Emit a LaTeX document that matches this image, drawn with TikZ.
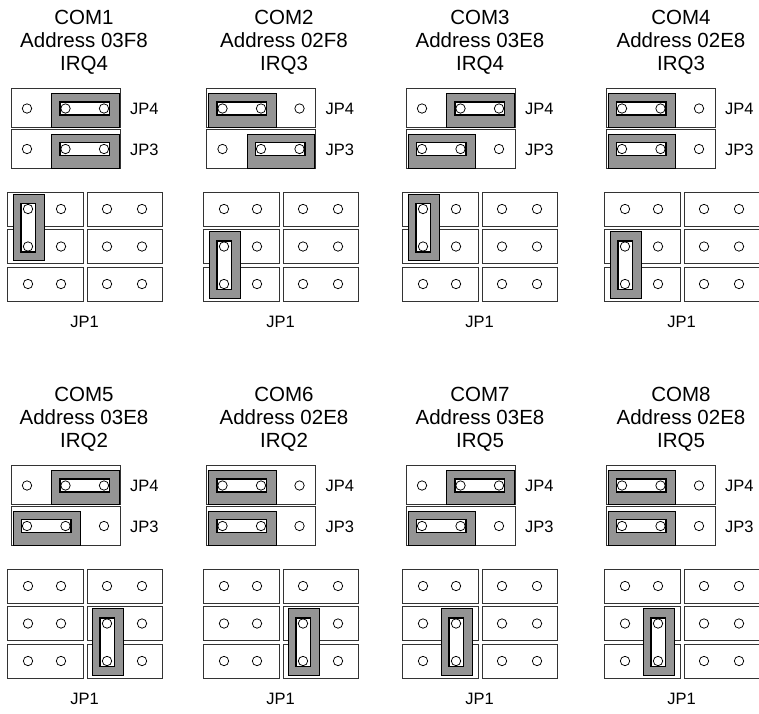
\documentclass[tikz,border=0pt]{standalone}
\usepackage{fontspec}
\setmainfont{Liberation Sans}
\tikzset{
  boxln/.style={draw=black!80, line width=0.9pt, fill=white},
  pin/.style={draw=black, line width=0.75pt, fill=white},
  jgray/.style={fill=black!42, draw=black, line width=1pt},
  jinln/.style={draw=black, line width=1.6pt},
  ttl/.style={font=\fontsize{20.5}{24}\selectfont, inner sep=0pt, anchor=base},
  lbl/.style={font=\fontsize{16.5}{19}\selectfont, inner sep=0pt},
}
% #1 X, #2 Y of pin row, #3 rel x of left jumpered pin, #4 label, #5 name
\newcommand\hrow[5]{%
  \draw[boxln] (#1+11,#2-20) rectangle (#1+120,#2+19);
  \draw[jgray] (#1+#3-14,#2-15) rectangle (#1+#3+38.5+15,#2+19);
  \fill[white] (#1+#3-5.5,#2-6.5) rectangle (#1+#3+38.5+5.5,#2+6.5);
  \foreach \p in {27,65.5,104} \draw[pin] (#1+\p,#2) circle (4.7);
  \draw[jinln] (#1+#3-5.5,#2-6.5) rectangle (#1+#3+38.5+5.5,#2+6.5);
  \node[lbl,anchor=west] (#5) at (#1+130,#2+0.5) {#4};
}
% #1 X, #2 Y (panel origin), #3 jumper column rel x, #4 y of top jumpered pin row (rel), #5 name
\newcommand\jpone[5]{%
  \foreach \ry in {192,229.5,267} {
    \draw[boxln] (#1+7,#2+\ry) rectangle (#1+83,#2+\ry+34);
    \draw[boxln] (#1+87,#2+\ry) rectangle (#1+162,#2+\ry+34);
  }
  \draw[jgray] (#1+#3-15,#2+#4-15) rectangle (#1+#3+16,#2+#4+37.5+14);
  \fill[white] (#1+#3-7,#2+#4-5.5) rectangle (#1+#3+7.5,#2+#4+37.5+5.5);
  \foreach \py in {209,246.5,284}
    \foreach \px in {28,61,107,142}
      \draw[pin] (#1+\px,#2+\py) circle (4.7);
  \draw[jinln] (#1+#3-7,#2+#4-5.5) rectangle (#1+#3+7.5,#2+#4+37.5+5.5);
  \node[lbl,anchor=base] (#5) at (#1+84.5,#2+327) {JP1};
}
% #1 centre x, #2 Y, #3..#5 lines, #6 name prefix
\newcommand\ptitle[6]{%
  \node[ttl] (#6a) at (#1,#2+24) {#3};
  \node[ttl] (#6b) at (#1,#2+47) {#4};
  \node[ttl] (#6c) at (#1,#2+70) {#5};
}
\begin{document}
\begin{tikzpicture}[x=1pt,y=-1pt]
\useasboundingbox (0,0) rectangle (759,713);
% ---- row 1
\ptitle{84}{0}{COM1}{Address 03F8}{IRQ4}{tA}
\hrow{0}{108.5}{65.5}{JP4}{jpfourA}
\hrow{0}{149}{65.5}{JP3}{jpthreeA}
\jpone{0}{0}{28}{209}{jponeA}

\ptitle{284}{0}{COM2}{Address 02F8}{IRQ3}{tB}
\hrow{195.5}{108.5}{27}{JP4}{jpfourB}
\hrow{195.5}{149}{65.5}{JP3}{jpthreeB}
\jpone{196}{0}{28}{246.5}{jponeB}

\ptitle{480}{0}{COM3}{Address 03E8}{IRQ4}{tC}
\hrow{395}{108.5}{65.5}{JP4}{jpfourC}
\hrow{395}{149}{27}{JP3}{jpthreeC}
\jpone{395}{0}{28}{209}{jponeC}

\ptitle{681}{0}{COM4}{Address 02E8}{IRQ3}{tD}
\hrow{595}{108.5}{27}{JP4}{jpfourD}
\hrow{595}{149}{27}{JP3}{jpthreeD}
\jpone{597}{0}{28}{246.5}{jponeD}
% ---- row 2
\ptitle{84}{377}{COM5}{Address 03E8}{IRQ2}{tE}
\hrow{0}{485.5}{65.5}{JP4}{jpfourE}
\hrow{0}{526}{27}{JP3}{jpthreeE}
\jpone{0}{377}{107}{246.5}{jponeE}

\ptitle{284}{377}{COM6}{Address 02E8}{IRQ2}{tF}
\hrow{195.5}{485.5}{27}{JP4}{jpfourF}
\hrow{195.5}{526}{27}{JP3}{jpthreeF}
\jpone{196}{377}{107}{246.5}{jponeF}

\ptitle{480}{377}{COM7}{Address 03E8}{IRQ5}{tG}
\hrow{395}{485.5}{65.5}{JP4}{jpfourG}
\hrow{395}{526}{27}{JP3}{jpthreeG}
\jpone{395}{377}{61}{246.5}{jponeG}

\ptitle{681}{377}{COM8}{Address 02E8}{IRQ5}{tH}
\hrow{595}{485.5}{27}{JP4}{jpfourH}
\hrow{595}{526}{27}{JP3}{jpthreeH}
\jpone{597}{377}{61}{246.5}{jponeH}
\end{tikzpicture}
\end{document}
